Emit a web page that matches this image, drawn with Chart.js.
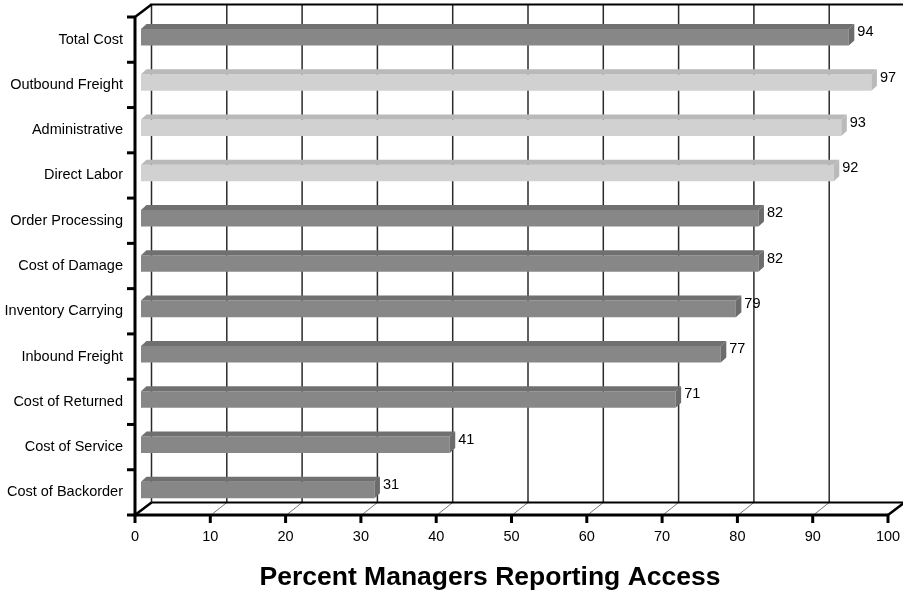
<!DOCTYPE html>
<html><head><meta charset="utf-8">
<script src="https://cdn.jsdelivr.net/npm/chart.js@4"></script>
<style>html,body{margin:0;padding:0;background:#fff}</style>
</head><body>
<canvas id="c" width="903" height="592" style="display:block;width:903px;height:592px"></canvas>
<script>
const categories = ['Total Cost','Outbound Freight','Administrative','Direct Labor','Order Processing','Cost of Damage','Inventory Carrying','Inbound Freight','Cost of Returned','Cost of Service','Cost of Backorder'];
const values = [94,97,93,92,82,82,79,77,71,41,31];
const shades = ['dark','light','light','light','dark','dark','dark','dark','dark','dark','dark'];
const xTicks = [0,10,20,30,40,50,60,70,80,90,100];
const axisTitle = 'Percent Managers Reporting Access';

const FONT = '"Liberation Sans", Arial, Helvetica, sans-serif';
const PAL = {
  dark:  {front:'#878787', top:'#707070', side:'#6c6c6c'},
  light: {front:'#d1d1d1', top:'#b9b9b9', side:'#bababa'}
};
const DX = 16.5, DY = -12.5;   // wall depth
const BX = 6, BY = -2.4;       // bar front-face shift
const BDX = 5.5, BDY = -5;     // bar depth

function seg(ctx, x1, y1, x2, y2, w, c){
  ctx.beginPath(); ctx.lineWidth = w; ctx.strokeStyle = c || '#000';
  ctx.moveTo(x1, y1); ctx.lineTo(x2, y2); ctx.stroke();
}
function poly(ctx, pts, c){
  ctx.beginPath(); ctx.fillStyle = c;
  ctx.moveTo(pts[0][0], pts[0][1]);
  for (let i = 1; i < pts.length; i++) ctx.lineTo(pts[i][0], pts[i][1]);
  ctx.closePath(); ctx.fill();
}

const frame3d = {
  id: 'frame3d',
  beforeDatasetsDraw(chart){
    const {ctx, chartArea: a, scales: {x, y}} = chart;
    ctx.save();
    ctx.lineCap = 'butt';
    xTicks.forEach(v => {
      const px = x.getPixelForValue(v) + DX;
      seg(ctx, px, a.top + DY, px, a.bottom + DY, 1.5, '#2a2a2a');
    });
    xTicks.forEach(v => {
      const px = x.getPixelForValue(v);
      seg(ctx, px + 2, a.bottom - 1, px + DX, a.bottom + DY, 0.8, '#555');
    });
    seg(ctx, a.left + DX, a.bottom + DY, a.right + DX + 2, a.bottom + DY, 2.2);
    seg(ctx, a.left + DX - 1, a.top + DY, a.right + DX + 2, a.top + DY, 2.2);
    seg(ctx, a.left, a.top, a.left + DX, a.top + DY, 2.5);
    seg(ctx, a.left, a.bottom, a.left + DX, a.bottom + DY, 2.5);
    seg(ctx, a.right, a.bottom, a.right + DX, a.bottom + DY, 2.5);
    ctx.restore();
  },
  beforeDatasetDraw(chart){
    chart.ctx.save();
    chart.ctx.translate(BX, BY);
  },
  afterDatasetDraw(chart, args){
    const ctx = chart.ctx;
    ctx.restore();
    const meta = chart.getDatasetMeta(args.index);
    meta.data.forEach((bar, i) => {
      const p = bar.getProps(['x','y','base','height'], true);
      const l = p.base + BX, r = p.x + BX;
      const t = p.y - p.height / 2 + BY, b = p.y + p.height / 2 + BY;
      const col = PAL[shades[i]];
      poly(ctx, [[l, t], [l + BDX, t + BDY], [r + BDX, t + BDY], [r, t]], col.top);
      poly(ctx, [[r, t], [r + BDX, t + BDY], [r + BDX, b + BDY], [r, b]], col.side);
      ctx.fillStyle = '#000';
      ctx.font = '14.5px ' + FONT;
      ctx.textAlign = 'left'; ctx.textBaseline = 'middle';
      ctx.fillText(String(values[i]), r + BDX + 3, p.y + BY - 5);
    });
  },
  afterDraw(chart){
    const {ctx, chartArea: a, scales: {x, y}} = chart;
    ctx.save();
    seg(ctx, a.left, a.top - 1, a.left, a.bottom + 1.5, 3);
    seg(ctx, a.left - 1.5, a.bottom, a.right, a.bottom, 3);
    const step = (a.bottom - a.top) / categories.length;
    for (let i = 0; i <= categories.length; i++) {
      const py = a.top + i * step;
      seg(ctx, a.left - 8, py, a.left, py, 3);
    }
    xTicks.forEach(v => {
      const px = x.getPixelForValue(v);
      seg(ctx, px, a.bottom, px, a.bottom + 8, 3);
    });
    ctx.fillStyle = '#000';
    ctx.font = 'bold 26.5px ' + FONT;
    ctx.textAlign = 'center'; ctx.textBaseline = 'middle';
    ctx.fillText(axisTitle, 490, 578);
    ctx.restore();
  }
};

new Chart(document.getElementById('c'), {
  type: 'bar',
  data: {
    labels: categories,
    datasets: [{
      data: values,
      backgroundColor: shades.map(s => PAL[s].front),
      borderWidth: 0,
      barPercentage: 0.365,
      categoryPercentage: 1
    }]
  },
  options: {
    indexAxis: 'y',
    responsive: false,
    animation: false,
    devicePixelRatio: 1,
    layout: {padding: {top: 17, right: 15, left: 0, bottom: 0}},
    plugins: {legend: {display: false}, tooltip: {enabled: false}},
    scales: {
      x: {
        type: 'linear', min: 0, max: 100,
        afterFit(s){ s.height = 77; s.paddingLeft = 0; s.paddingRight = 0; },
        grid: {display: false, drawTicks: false},
        border: {display: false},
        ticks: {stepSize: 10, color: '#000', font: {family: FONT, size: 14.5}, padding: 13, maxRotation: 0}
      },
      y: {
        afterFit(s){ s.width = 135; s.paddingTop = 0; s.paddingBottom = 0; },
        grid: {display: false, drawTicks: false},
        border: {display: false},
        ticks: {color: '#000', font: {family: FONT, size: 14.5}, padding: 12}
      }
    }
  },
  plugins: [frame3d]
});
</script>
</body></html>
